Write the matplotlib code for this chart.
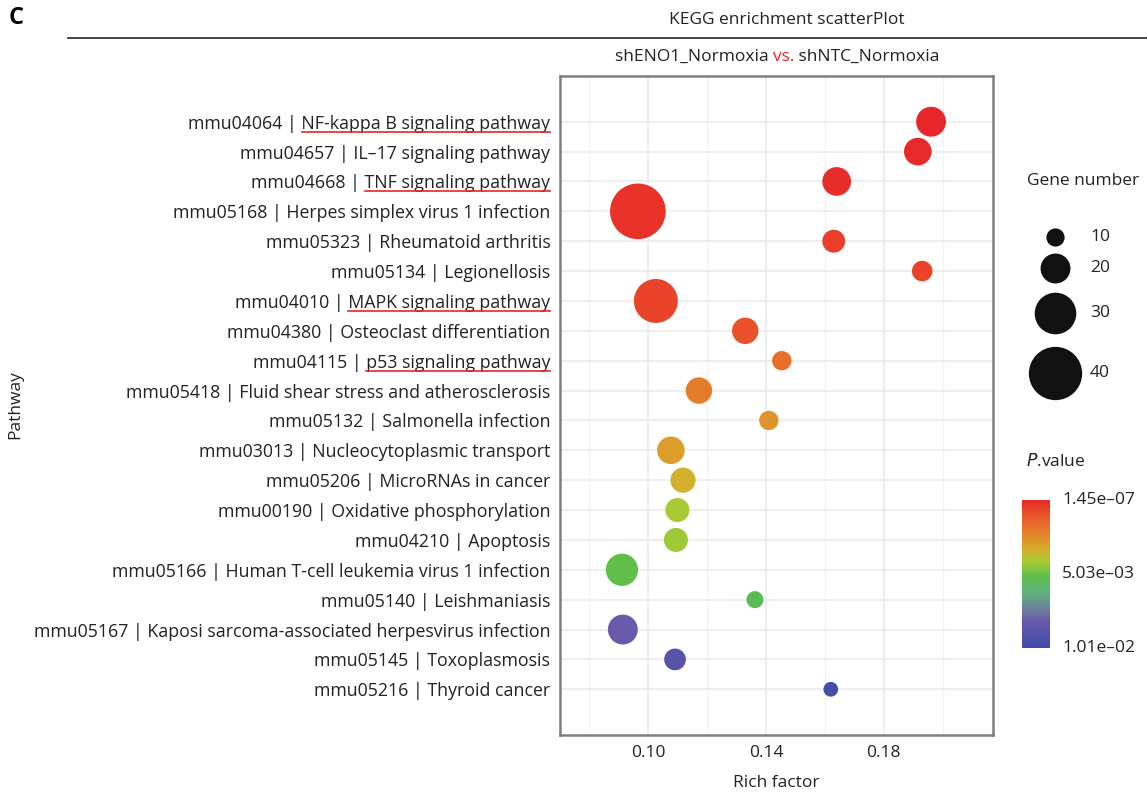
import matplotlib
matplotlib.use("Agg")
import matplotlib.pyplot as plt
import numpy as np
from matplotlib.colors import LinearSegmentedColormap, Normalize
from matplotlib.lines import Line2D

plt.rcParams['font.family'] = ['Open Sans', 'DejaVu Sans']

# ---------------- data ----------------
ids = ["mmu04064", "mmu04657", "mmu04668", "mmu05168", "mmu05323", "mmu05134",
       "mmu04010", "mmu04380", "mmu04115", "mmu05418", "mmu05132", "mmu03013",
       "mmu05206", "mmu00190", "mmu04210", "mmu05166", "mmu05140", "mmu05167",
       "mmu05145", "mmu05216"]
names = ["NF-kappa B signaling pathway", "IL\u201317 signaling pathway",
         "TNF signaling pathway", "Herpes simplex virus 1 infection",
         "Rheumatoid arthritis", "Legionellosis", "MAPK signaling pathway",
         "Osteoclast differentiation", "p53 signaling pathway",
         "Fluid shear stress and atherosclerosis", "Salmonella infection",
         "Nucleocytoplasmic transport", "MicroRNAs in cancer",
         "Oxidative phosphorylation", "Apoptosis",
         "Human T-cell leukemia virus 1 infection", "Leishmaniasis",
         "Kaposi sarcoma-associated herpesvirus infection", "Toxoplasmosis",
         "Thyroid cancer"]
underlined = ["NF-kappa B signaling pathway", "TNF signaling pathway",
              "MAPK signaling pathway", "p53 signaling pathway"]
rich_factor = [0.196, 0.1915, 0.164, 0.0966, 0.163, 0.193, 0.1027, 0.133,
               0.1454, 0.1173, 0.141, 0.1078, 0.1119, 0.110, 0.1095, 0.0912,
               0.1363, 0.0915, 0.1092, 0.162]
gene_number = [20, 18, 19, 42, 14, 12, 32, 17, 11, 17, 11, 18, 16, 15, 15, 22,
               9, 20, 13, 7]
p_value = [1.45e-07, 1.0e-04, 2.0e-04, 3.0e-04, 6.0e-04, 7.0e-04, 7.0e-04,
           1.0e-03, 1.8e-03, 2.2e-03, 2.8e-03, 3.0e-03, 3.5e-03, 4.2e-03,
           4.35e-03, 5.2e-03, 5.45e-03, 8.3e-03, 9.1e-03, 9.8e-03]
p_min, p_max = 1.45e-07, 1.01e-02
cbar_ticks = [1.45e-07, 5.03e-03, 1.01e-02]
cbar_ticklabels = ["1.45e\u201307", "5.03e\u201303", "1.01e\u201302"]
legend_sizes = [10, 20, 30, 40]
x_ticks = [0.10, 0.14, 0.18]
x_minor = [0.08, 0.12, 0.16, 0.20]

# ---------------- style helpers ----------------
FS = 12.5
YFS = 12.8
TXT = '#222222'
cmap = LinearSegmentedColormap.from_list("kegg", [
    (0.00, "#E8262A"), (0.12, "#EA5A2A"), (0.25, "#E28A2A"),
    (0.34, "#D6AE2C"), (0.42, "#A6CC36"), (0.52, "#5CBE4A"),
    (0.62, "#5EB57A"), (0.72, "#6A8A98"), (0.82, "#6A5AAA"),
    (1.00, "#3D4BA8")])
norm = Normalize(vmin=p_min, vmax=p_max)

def diam_px(n):
    return 6.5 + 1.17 * np.asarray(n, dtype=float)

def area_pt2(n, dpi=100):
    d_pt = diam_px(n) * 72.0 / dpi
    return d_pt ** 2

W, H = 1147, 796
fig = plt.figure(figsize=(W / 100, H / 100), dpi=100)
ax = fig.add_axes([560 / W, 1 - 735 / H, (993 - 560) / W, (735 - 76) / H])

n = len(ids)
ypos = np.arange(n)[::-1]
ax.set_xlim(0.0702, 0.217)
ax.set_ylim(-1.53, n - 1 + 1.53)
ax.set_xticks(x_ticks)
ax.set_xticklabels(["%.2f" % t for t in x_ticks])
ax.set_xticks(x_minor, minor=True)
ax.set_yticks(ypos)
ax.set_yticklabels(["%s | %s" % (i, nm) for i, nm in zip(ids, names)])
ax.tick_params(axis='both', length=0, labelsize=FS, colors=TXT, pad=7)
ax.tick_params(axis='y', labelsize=YFS)
ax.tick_params(axis='x', which='minor', length=0)
ax.grid(True, which='major', color='#E8EAEC', linewidth=1.1)
ax.grid(True, which='minor', axis='x', color='#F1F2F3', linewidth=0.9)
ax.set_axisbelow(True)
for s in ax.spines.values():
    s.set_color('#7F7F7F')
    s.set_linewidth(1.8)

ax.scatter(rich_factor, ypos, s=area_pt2(gene_number), c=p_value,
           cmap=cmap, norm=norm, edgecolors='none', zorder=3)

ax.set_xlabel("Rich factor", fontsize=FS, color=TXT, labelpad=10)
fig.text(15 / W, 1 - 405 / H, "Pathway", rotation=90, ha='center', va='center',
         fontsize=FS, color=TXT)

# titles
fig.text(9 / W, 1 - 18 / H, "C", fontsize=17, fontweight='bold', ha='left', va='center')
fig.text(787 / W, 1 - 20 / H, "KEGG enrichment scatterPlot", fontsize=FS,
         ha='center', va='center', color=TXT)
fig.add_artist(Line2D([68 / W, 1.0], [1 - 38 / H, 1 - 38 / H], color='#222222', linewidth=1.2))
sub_parts = [("shENO1_Normoxia ", TXT), ("vs.", '#E8262A'), (" shNTC_Normoxia", TXT)]

# gene number legend
fig.text(1083 / W, 1 - 181 / H, "Gene number", fontsize=FS, ha='center', va='center', color=TXT)
leg_y = [237, 268, 313, 373]
for val, yy in zip(legend_sizes, leg_y):
    fig.add_artist(Line2D([1055 / W], [1 - yy / H], marker='o', linestyle='none',
                          markersize=diam_px(val) * 0.72, markerfacecolor='#111111',
                          markeredgecolor='none'))
    fig.text(1090 / W, 1 - yy / H, str(val), fontsize=FS, ha='left', va='center', color=TXT)

# colorbar
fig.text(1056 / W, 1 - 461 / H, "$\\it{P}$.value", fontsize=FS, ha='center', va='center', color=TXT)
cax = fig.add_axes([1022 / W, 1 - 648 / H, 28 / W, 148 / H])
grad = np.linspace(p_min, p_max, 256).reshape(-1, 1)
cax.imshow(grad, aspect='auto', cmap=cmap, norm=norm, extent=[0, 1, p_max, p_min])
cax.set_xticks([])
cax.set_yticks([])
for s in cax.spines.values():
    s.set_visible(False)
for tv, tl in zip(cbar_ticks, cbar_ticklabels):
    yy = 1 - 648 / H + (148 / H) * (1 - (tv - p_min) / (p_max - p_min))
    fig.text(1062 / W, yy, tl, fontsize=FS, ha='left', va='center', color=TXT)

fig.canvas.draw()
renderer = fig.canvas.get_renderer()

# subtitle with coloured "vs."
tmp = [fig.text(0, 0, t, fontsize=FS) for t, c in sub_parts]
widths = [t.get_window_extent(renderer).width for t in tmp]
for t in tmp:
    t.remove()
x0 = 777 - sum(widths) / 2
for (t, c), w in zip(sub_parts, widths):
    fig.text(x0 / W, 1 - 57 / H, t, fontsize=FS, color=c, ha='left', va='center')
    x0 += w

# underline selected pathway names
for lab, nm in zip(ax.get_yticklabels(), names):
    if nm in underlined:
        bb = lab.get_window_extent(renderer)
        t = fig.text(0, 0, nm, fontsize=YFS)
        w = t.get_window_extent(renderer).width
        t.remove()
        yb = bb.y0 + 1
        fig.add_artist(Line2D([(bb.x1 - w) / W, bb.x1 / W], [yb / H, yb / H],
                              color='#E8262A', linewidth=1.2))

fig.savefig("out.png", dpi=100)
